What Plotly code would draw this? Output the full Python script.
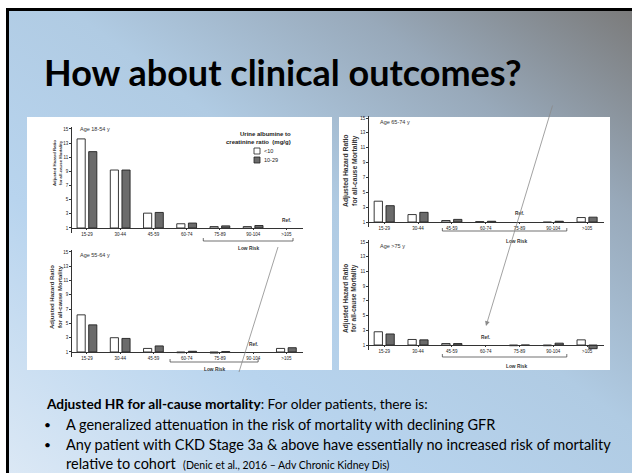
import base64
import plotly.graph_objects as go

W, H = 632, 473

categories = ["15-29", "30-44", "45-59", "60-74", "75-89", "90-104", ">105"]
yticks = [1, 3, 5, 7, 9, 11, 13, 15]

hr_18_54_low = [13.6, 9.2, 3.1, 1.6, 1.2, 1.2, None]
hr_18_54_high = [11.8, 9.2, 3.2, 1.7, 1.3, 1.35, None]
hr_55_64_low = [6.2, 3.0, 1.5, 0.9, 0.85, None, 1.5]
hr_55_64_high = [4.8, 2.9, 1.85, 1.1, 1.05, None, 1.6]
hr_65_74_low = [3.8, 2.0, 1.2, 1.05, None, 0.95, 1.6]
hr_65_74_high = [3.2, 2.3, 1.35, 1.1, None, 1.1, 1.65]
hr_75_low = [2.8, 1.75, 1.2, None, 0.9, 0.9, 1.7]
hr_75_high = [2.5, 1.7, 1.2, None, 0.98, 1.25, 0.5]

legend_low = "<10"
legend_high = "10-29"


def px(x):
    return x / W


def py(y):
    return 1 - y / H


panels = [
    dict(low=hr_18_54_low, high=hr_18_54_high, x0=72, x1=303, b1=228, b15=129,
         age="Age 18-54 y", agepos=(78, 129), ref=6, refy=221,
         br=(3.5, 6.2), bry=241, brl=4.85, brly=248, yt=(57, 163), yts=4.3),
    dict(low=hr_55_64_low, high=hr_55_64_high, x0=72, x1=303, b1=352, b15=252,
         age="Age 55-64 y", agepos=(78, 255), ref=5, refy=344,
         br=(2.5, 5.15), bry=362, brl=3.85, brly=369, yt=(56, 297), yts=6.0),
    dict(low=hr_65_74_low, high=hr_65_74_high, x0=369, x1=604, b1=222, b15=118,
         age="Age 65-74 y", agepos=(378, 122), ref=4, refy=213,
         br=(1.72, 5.4), bry=231, brl=3.9, brly=241, yt=(350, 170), yts=6.8),
    dict(low=hr_75_low, high=hr_75_high, x0=369, x1=604, b1=345, b15=242,
         age="Age >75 y", agepos=(378, 246), ref=3, refy=337,
         br=(1.72, 5.4), bry=357, brl=3.9, brly=366, yt=(350, 298), yts=6.5),
]

LO, HI = 0.3, 15.3
XR = (-0.45, 6.5)

fig = go.Figure()
shapes = []
annotations = []
layout = {}

# slide background
svg = ('<svg xmlns="http://www.w3.org/2000/svg" width="623" height="462" preserveAspectRatio="none">'
       '<defs><linearGradient id="g" x1="0" y1="1" x2="1" y2="0">'
       '<stop offset="0" stop-color="#dbe8f5"/><stop offset="0.3" stop-color="#b8d4ee"/>'
       '<stop offset="0.55" stop-color="#b0cbe3"/><stop offset="0.78" stop-color="#98a9ba"/>'
       '<stop offset="1" stop-color="#7b7b7b"/></linearGradient></defs>'
       '<rect width="623" height="462" fill="url(#g)"/></svg>')
src = "data:image/svg+xml;base64," + base64.b64encode(svg.encode()).decode()
images = [dict(source=src, xref="paper", yref="paper", x=px(9), y=py(11),
               sizex=(W - 9) / W, sizey=(H - 11) / H, xanchor="left", yanchor="top",
               sizing="stretch", layer="below")]

# border lines
shapes.append(dict(type="line", xref="paper", yref="paper", x0=px(7.5), x1=px(7.5),
                   y0=py(8), y1=py(H), line=dict(color="black", width=3), layer="below"))
shapes.append(dict(type="line", xref="paper", yref="paper", x0=px(6), x1=px(W),
                   y0=py(9.5), y1=py(9.5), line=dict(color="black", width=3), layer="below"))
# white picture panels
for (a, b, c, d) in [(27, 117, 332, 370), (339, 117, 610, 370)]:
    shapes.append(dict(type="rect", xref="paper", yref="paper", x0=px(a), x1=px(c),
                       y0=py(d), y1=py(b), fillcolor="white", line=dict(width=0), layer="below"))

for i, p in enumerate(panels):
    n = "" if i == 0 else str(i + 1)
    xa, ya = "x" + n, "y" + n
    unit = (p["b1"] - p["b15"]) / 14.0
    top_px = p["b1"] - (HI - 1) * unit
    bot_px = p["b1"] + (1 - LO) * unit
    layout["xaxis" + n] = dict(domain=[px(p["x0"]), px(p["x1"])], anchor="free",
                               position=py(p["b1"]), range=list(XR),
                               tickvals=list(range(7)), ticktext=categories,
                               tickfont=dict(size=4.5, family="Liberation Sans", color="#222"),
                               showline=True, linecolor="#333", linewidth=0.8,
                               ticks="outside", ticklen=1.5, tickwidth=0.6, tickcolor="#333",
                               showgrid=False, zeroline=False, fixedrange=True)
    layout["yaxis" + n] = dict(domain=[py(bot_px), py(top_px)], anchor=xa, range=[LO, HI],
                               tickvals=yticks, ticks="outside", ticklen=2, tickwidth=0.6,
                               tickcolor="#333",
                               tickfont=dict(size=4.5, family="Liberation Sans", color="#222"),
                               showline=True, linecolor="#333", linewidth=0.8,
                               showgrid=False, zeroline=False, fixedrange=True)
    fig.add_trace(go.Bar(x=list(range(7)), y=[None if v is None else v - 1 for v in p["low"]],
                         base=1, xaxis=xa, yaxis=ya, name=legend_low, showlegend=False,
                         marker=dict(color="white", line=dict(color="#222", width=0.9))))
    fig.add_trace(go.Bar(x=list(range(7)), y=[None if v is None else v - 1 for v in p["high"]],
                         base=1, xaxis=xa, yaxis=ya, name=legend_high, showlegend=False,
                         marker=dict(color="#6b6b6b", line=dict(color="#222", width=0.9))))
    small = dict(family="Liberation Sans", color="#333")
    annotations.append(dict(xref="paper", yref="paper", x=px(p["agepos"][0]), y=py(p["agepos"][1]),
                            text=p["age"], showarrow=False, xanchor="left", yanchor="middle",
                            font=dict(size=5.5, **small)))
    annotations.append(dict(xref=xa, yref="paper", x=p["ref"], y=py(p["refy"]), text="<b>Ref.</b>",
                            showarrow=False, xanchor="center", yanchor="middle",
                            font=dict(size=4.8, **small)))
    # bracket
    bx0, bx1 = p["br"]
    by = py(p["bry"])
    tick = 3 / H
    shapes.append(dict(type="path", xref=xa, yref="paper",
                       path=f"M {bx0} {by + tick} L {bx0} {by} L {bx1} {by} L {bx1} {by + tick}",
                       line=dict(color="#333", width=0.7)))
    annotations.append(dict(xref=xa, yref="paper", x=p["brl"], y=py(p["brly"]), text="<b>Low Risk</b>",
                            showarrow=False, xanchor="center", yanchor="middle",
                            font=dict(size=4.8, **small)))
    annotations.append(dict(xref="paper", yref="paper", x=px(p["yt"][0]), y=py(p["yt"][1]),
                            text="<b>Adjusted Hazard Ratio<br>for all-cause Mortality</b>",
                            showarrow=False, textangle=-90, xanchor="center", yanchor="middle",
                            font=dict(size=p["yts"], **small)))

# legend (top-left panel)
small = dict(family="Liberation Sans", color="#222")
annotations.append(dict(xref="paper", yref="paper", x=px(293), y=py(138),
                        text="<b>Urine albumine to<br>creatinine ratio  (mg/g)</b>", showarrow=False,
                        xanchor="right", yanchor="middle", align="right", font=dict(size=6, **small)))
shapes.append(dict(type="rect", xref="paper", yref="paper", x0=px(254), x1=px(260), y0=py(154), y1=py(148),
                   fillcolor="white", line=dict(color="#222", width=0.8)))
shapes.append(dict(type="rect", xref="paper", yref="paper", x0=px(254), x1=px(260), y0=py(163), y1=py(157),
                   fillcolor="#6b6b6b", line=dict(color="#222", width=0.8)))
annotations.append(dict(xref="paper", yref="paper", x=px(262), y=py(151), text=legend_low,
                        showarrow=False, xanchor="left", yanchor="middle", font=dict(size=5.5, **small)))
annotations.append(dict(xref="paper", yref="paper", x=px(262), y=py(160), text=legend_high,
                        showarrow=False, xanchor="left", yanchor="middle", font=dict(size=5.5, **small)))

# pointer lines drawn on slide
shapes.append(dict(type="line", xref="paper", yref="paper", x0=px(278), y0=py(247), x1=px(239), y1=py(372),
                   line=dict(color="#8a8a8a", width=0.8)))
annotations.append(dict(xref="paper", yref="paper", x=px(486), y=py(326), ax=553 - 486, ay=104 - 326,
                        axref="pixel", ayref="pixel", text="", showarrow=True, arrowhead=2,
                        arrowsize=1.2, arrowwidth=0.8, arrowcolor="#8a8a8a"))

# slide text
annotations.append(dict(xref="paper", yref="paper", x=px(42), y=py(72), text="<b>How about clinical outcomes?</b>",
                        showarrow=False, xanchor="left", yanchor="middle",
                        font=dict(size=36, family="Lato", color="black")))
body = dict(family="Lato", color="black", size=14.5)
annotations.append(dict(xref="paper", yref="paper", x=px(44), y=py(403),
                        text="<b>Adjusted HR for all-cause mortality</b>: For older patients, there is:",
                        showarrow=False, xanchor="left", yanchor="middle",
                        font=dict(family="Lato", color="black", size=13.7)))
for yy in (424, 444):
    annotations.append(dict(xref="paper", yref="paper", x=px(42), y=py(yy), text="•",
                            showarrow=False, xanchor="left", yanchor="middle",
                            font=dict(family="Lato", color="black", size=12)))
annotations.append(dict(xref="paper", yref="paper", x=px(64), y=py(424),
                        text="A generalized attenuation in the risk of mortality with declining GFR",
                        showarrow=False, xanchor="left", yanchor="middle", font=body))
annotations.append(dict(xref="paper", yref="paper", x=px(64), y=py(444),
                        text="Any patient with CKD Stage 3a &amp; above have essentially no increased risk of mortality",
                        showarrow=False, xanchor="left", yanchor="middle", font=body))
annotations.append(dict(xref="paper", yref="paper", x=px(64), y=py(463),
                        text="relative to cohort  <span style=\"font-size:10.5px\">(Denic et al., 2016 – Adv Chronic Kidney Dis)</span>",
                        showarrow=False, xanchor="left", yanchor="middle", font=body))

fig.update_layout(**layout)
fig.update_layout(width=W, height=H, margin=dict(l=0, r=0, t=0, b=0),
                  paper_bgcolor="white", plot_bgcolor="rgba(0,0,0,0)",
                  barmode="group", bargap=0.3, bargroupgap=0.3,
                  shapes=shapes, annotations=annotations, images=images, showlegend=False)

fig.write_html("out.html", config={"displayModeBar": False},
               post_script="document.body.style.margin='0';")
